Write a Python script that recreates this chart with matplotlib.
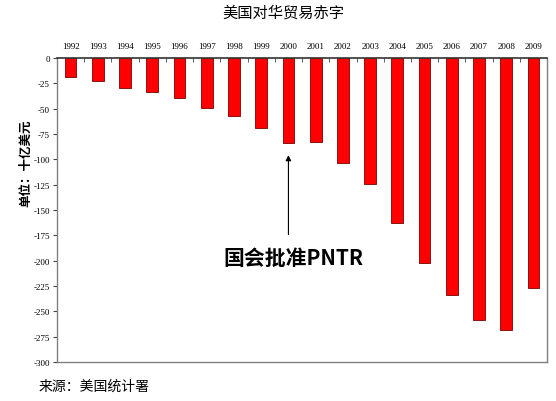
import matplotlib
matplotlib.use("Agg")
import matplotlib.pyplot as plt
import numpy as np

plt.rcParams['font.family'] = ['Noto Sans CJK SC', 'DejaVu Sans']
plt.rcParams['axes.unicode_minus'] = False

# 美国对华贸易赤字（十亿美元）
years = ["1992", "1993", "1994", "1995", "1996", "1997", "1998", "1999", "2000",
         "2001", "2002", "2003", "2004", "2005", "2006", "2007", "2008", "2009"]
deficit = [-18.3, -22.8, -29.5, -33.8, -39.5, -49.7, -56.9, -68.7, -83.8,
           -83.1, -103.1, -124.1, -162.3, -202.3, -234.1, -258.5, -268.0, -226.9]
yticks = list(range(0, -301, -25))

fig = plt.figure(figsize=(5.56, 4.02), dpi=100)
ax = fig.add_axes([0.1025, 0.097, 0.8815, 0.756])

x = np.arange(len(years))
ax.bar(x, deficit, width=0.43, color="#ff0000", edgecolor="#7a0000", linewidth=0.6)

ax.set_xlim(-0.5, len(years) - 0.5)
ax.set_ylim(-300, 0)

# 年份标注在顶部
ax.xaxis.tick_top()
ax.set_xticks(x)
ax.set_xticklabels(years, family="Liberation Serif", fontsize=6.5)
ax.tick_params(axis="x", which="major", length=0, pad=6)
ax.set_xticks(np.arange(-0.5, len(years) - 0.4, 1), minor=True)
ax.tick_params(axis="x", which="minor", direction="in", length=3, color="#444444")

ax.set_yticks(yticks)
ax.set_yticklabels([str(t) if t == 0 else "-" + str(-t) for t in yticks],
                   family="Liberation Serif", fontsize=6.5)
ax.tick_params(axis="y", direction="out", length=3, color="#444444", pad=2)

for side in ["left", "right", "bottom"]:
    ax.spines[side].set_color("#808080")
    ax.spines[side].set_linewidth(1.0)
ax.spines["top"].set_color("#333333")
ax.spines["top"].set_linewidth(1.2)

# PNTR 标注
ax.annotate("", xy=(8, -93), xytext=(8, -177),
            arrowprops=dict(arrowstyle="-|>", color="black", lw=0.8, mutation_scale=8))
ax.text(8.2, -197, "国会批准PNTR", fontsize=15, fontweight="bold",
        ha="center", va="center")

fig.text(0.51, 0.967, "美国对华贸易赤字", fontsize=11, ha="center", va="center")
fig.text(0.047, 0.595, "单位：十亿美元", fontsize=9, fontweight="bold",
         rotation=90, ha="center", va="center")
fig.text(0.07, 0.037, "来源：美国统计署", fontsize=10, ha="left", va="center")

fig.savefig("out.png", dpi=100)
